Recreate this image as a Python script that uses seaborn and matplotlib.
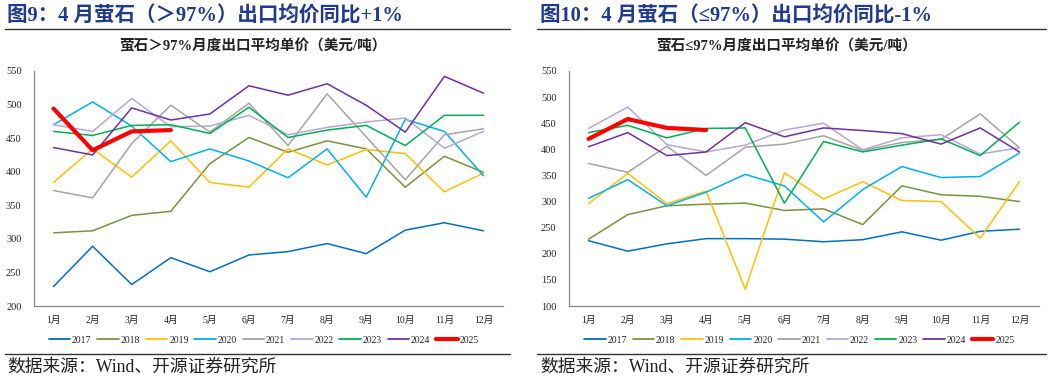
import matplotlib
matplotlib.use('Agg')
import matplotlib.pyplot as plt
import matplotlib.lines as mlines
import numpy as np
import pandas as pd
import seaborn as sns

months = ['1月', '2月', '3月', '4月', '5月', '6月', '7月', '8月', '9月', '10月', '11月', '12月']
years = ['2017', '2018', '2019', '2020', '2021', '2022', '2023', '2024', '2025']
colors = ['#0070C0', '#77933C', '#FFC000', '#00B0F0', '#A5A5A5', '#B4A7D6', '#00B050', '#7030A0', '#FF0000']

# 萤石 >97%
hi_2017 = [229, 289, 232, 272, 251, 276, 281, 293, 278, 313, 324, 312]
hi_2018 = [309, 312, 335, 341, 412, 451, 429, 446, 434, 377, 423, 399]
hi_2019 = [384, 434, 392, 446, 384, 377, 434, 410, 433, 427, 370, 398]
hi_2020 = [470, 504, 468, 415, 434, 416, 391, 434, 362, 478, 460, 394]
hi_2021 = [372, 361, 442, 499, 459, 502, 439, 516, 452, 388, 455, 464]
hi_2022 = [470, 460, 509, 467, 468, 484, 455, 466, 474, 480, 435, 460]
hi_2023 = [460, 454, 469, 470, 457, 496, 451, 462, 469, 439, 484, 484]
hi_2024 = [436, 425, 495, 477, 486, 528, 514, 531, 499, 459, 542, 517]
hi_2025 = [494, 432, 460, 462]

# 萤石 <=97%
lo_2017 = [225, 205, 219, 229, 229, 228, 223, 227, 242, 226, 243, 247]
lo_2018 = [228, 275, 292, 295, 297, 283, 286, 256, 330, 313, 310, 300]
lo_2019 = [296, 354, 296, 320, 132, 355, 305, 338, 302, 300, 230, 338]
lo_2020 = [306, 342, 292, 318, 352, 330, 261, 323, 367, 346, 348, 393]
lo_2021 = [373, 356, 406, 350, 404, 410, 426, 398, 413, 419, 468, 403]
lo_2022 = [440, 481, 409, 395, 408, 437, 450, 399, 422, 428, 391, 403]
lo_2023 = [432, 446, 422, 440, 441, 297, 415, 395, 408, 420, 388, 452]
lo_2024 = [405, 432, 388, 395, 451, 424, 441, 436, 430, 410, 441, 395]
lo_2025 = [420, 458, 441, 437]

hi_series = [hi_2017, hi_2018, hi_2019, hi_2020, hi_2021, hi_2022, hi_2023, hi_2024, hi_2025]
lo_series = [lo_2017, lo_2018, lo_2019, lo_2020, lo_2021, lo_2022, lo_2023, lo_2024, lo_2025]

sns.set_style('white')
plt.rcParams['font.family'] = ['Liberation Serif', 'Noto Sans CJK SC', 'DejaVu Sans']

W, H = 1057, 380
fig = plt.figure(figsize=(W / 100, H / 100), dpi=100)
navy = '#1F3A8F'


def px_axes(x0, x1, ytop, ybot):
    return fig.add_axes([x0 / W, 1 - ybot / H, (x1 - x0) / W, (ybot - ytop) / H])


def draw_panel(ax, series, ymin, ymax):
    rows = []
    for yr, vals in zip(years, series):
        for i, v in enumerate(vals):
            rows.append((yr, i, v))
    df = pd.DataFrame(rows, columns=['year', 'pos', 'value'])
    for yr, col in zip(years, colors):
        sub = df[df['year'] == yr]
        lw = 3.0 if yr == '2025' else 1.1
        sns.lineplot(data=sub, x='pos', y='value', ax=ax, color=col, linewidth=lw,
                     legend=False, zorder=3 if yr == '2025' else 2)
    ax.set_xlim(-0.5, 11.5)
    ax.set_ylim(ymin, ymax)
    ax.set_yticks(np.arange(ymin, ymax + 1, 50))
    ax.set_xticks(np.arange(-0.5, 12, 1))
    ax.set_xticklabels([])
    ax.set_xticks(np.arange(12), minor=True)
    ax.set_xticklabels(months, minor=True, fontsize=7)
    ax.tick_params(axis='x', which='major', direction='in', length=4, color='#888888', width=0.8)
    ax.tick_params(axis='x', which='minor', length=0, pad=7)
    ax.tick_params(axis='y', direction='out', length=3, color='#888888', width=0.8, labelsize=7.5, pad=6)
    ax.set_xlabel('')
    ax.set_ylabel('')
    for s in ['top', 'right']:
        ax.spines[s].set_visible(False)
    for s in ['left', 'bottom']:
        ax.spines[s].set_color('#888888')
        ax.spines[s].set_linewidth(0.9)
    handles = [mlines.Line2D([], [], color=c, linewidth=3.0 if y == '2025' else 1.3)
               for y, c in zip(years, colors)]
    ax.legend(handles, years, loc='upper center', bbox_to_anchor=(0.49, -0.09), ncol=9,
              frameon=False, fontsize=7, handlelength=2.2, handletextpad=0.2, columnspacing=0.6)


axL = px_axes(34, 503, 71, 306)
draw_panel(axL, hi_series, 200, 550)
axR = px_axes(569, 1039, 71, 306)
draw_panel(axR, lo_series, 100, 550)

# titles
fig.text(7 / W, 1 - 16 / H, '图9：4 月萤石（＞97%）出口均价同比+1%', fontsize=14.8,
         fontweight='bold', color=navy, va='center', ha='left')
fig.text(540 / W, 1 - 16 / H, '图10：4 月萤石（≤97%）出口均价同比-1%', fontsize=14.8,
         fontweight='bold', color=navy, va='center', ha='left')
fig.text(253 / W, 1 - 46 / H, '萤石＞97%月度出口平均单价（美元/吨）', fontsize=10.5,
         fontweight='bold', color='#222222', va='center', ha='center')
fig.text(787 / W, 1 - 46 / H, '萤石≤97%月度出口平均单价（美元/吨）', fontsize=10.5,
         fontweight='bold', color='#222222', va='center', ha='center')

# separator lines
for (x0, x1) in [(5, 510), (537, 1046)]:
    for yy in [29, 354]:
        fig.add_artist(mlines.Line2D([x0 / W, x1 / W], [1 - yy / H, 1 - yy / H],
                                     color='#333333', linewidth=1.0))

fig.text(7 / W, 1 - 367 / H, '数据来源：Wind、开源证券研究所', fontsize=12.8,
         color='#222222', va='center', ha='left')
fig.text(540 / W, 1 - 367 / H, '数据来源：Wind、开源证券研究所', fontsize=12.8,
         color='#222222', va='center', ha='left')

fig.savefig('out.png', dpi=100)
